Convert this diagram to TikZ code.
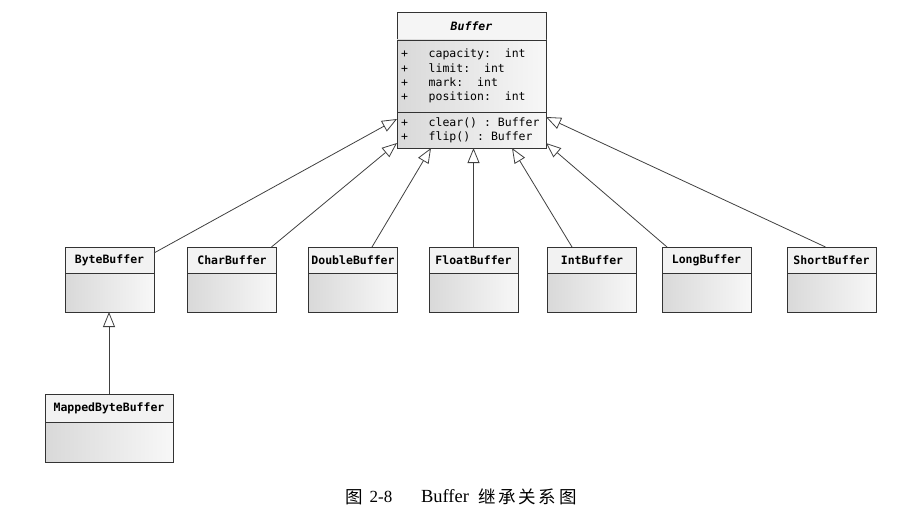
\documentclass[tikz,border=0pt]{standalone}
\usepackage{fontspec}
\usepackage{tikz}
\usetikzlibrary{arrows.meta,positioning}
\setmainfont{Liberation Serif}
\setmonofont{DejaVu Sans Mono}
\newfontfamily\cjk{Noto Sans CJK SC}
\newcommand{\blank}[1]{\phantom{#1}}

\tikzset{
  classname/.style={draw=black!80, line width=0.9pt, fill=black!5, inner sep=0pt, outer sep=0pt,
    minimum width=89pt, minimum height=26pt, font=\fontsize{11.5}{14}\ttfamily\bfseries},
  classbody/.style={draw=black!80, line width=0.9pt, left color=black!15, right color=black!3,
    inner sep=0pt, outer sep=0pt, minimum width=89pt, minimum height=39pt},
  members/.style={classbody, minimum width=149pt, text width=141pt, align=left,
    font=\fontsize{11.5}{14.3}\ttfamily},
  inherit/.style={draw=black!75, line width=0.8pt, -{Triangle[open, length=15pt, width=12pt]}},
  captxt/.style={anchor=base, inner sep=0pt}
}

\begin{document}
\begin{tikzpicture}[x=1pt, y=-1pt]
  \useasboundingbox (0,0) rectangle (905,519);
  % base class
  \node[classname, minimum width=149pt, minimum height=28pt, fill=black!4] (buf) at (471.5,26) {\itshape Buffer};
  \node[members, minimum height=72pt, below=0pt of buf] (bufattr)
    {+\blank{xxx}capacity:\blank{xx}int\\+\blank{xxx}limit:\blank{xx}int\\
     +\blank{xxx}mark:\blank{xx}int\\+\blank{xxx}position:\blank{xx}int};
  \node[members, minimum height=36pt, below=0pt of bufattr] (bufops)
    {+\blank{xxx}clear()\blank{x}:\blank{x}Buffer\\+\blank{xxx}flip()\blank{x}:\blank{x}Buffer};
  % sub classes
  \node[classname] (byte) at (109.5,260) {ByteBuffer};
  \node[classname] (char) at (232,260) {CharBuffer};
  \node[classname] (double) at (353,260) {DoubleBuffer};
  \node[classname] (float) at (473.5,260) {FloatBuffer};
  \node[classname] (int) at (592,260) {IntBuffer};
  \node[classname] (long) at (706.5,260) {LongBuffer};
  \node[classname] (short) at (831.5,260) {ShortBuffer};
  \foreach \n in {byte,char,double,float,int,long,short}
    \node[classbody, below=0pt of \n] (\n body) {};
  \node[classname, minimum width=128pt, minimum height=28pt] (mapped) at (109,408) {MappedByteBuffer};
  \node[classbody, minimum width=128pt, minimum height=40pt, below=0pt of mapped] (mappedbody) {};
  % inheritance arrows
  \draw[inherit] ([yshift=-6pt]byte.north east) -- ([yshift=-7pt]bufops.north west);
  \draw[inherit] ([xshift=-5pt]char.north east) -- ([yshift=5pt]bufops.south west);
  \draw[inherit] ([xshift=19pt]double.north) -- ([xshift=34pt]bufops.south west);
  \draw[inherit] (float.north) -- (float.north |- bufops.south);
  \draw[inherit] ([xshift=-20pt]int.north) -- ([xshift=-34pt]bufops.south east);
  \draw[inherit] ([xshift=5pt]long.north west) -- ([yshift=5pt]bufops.south east);
  \draw[inherit] ([xshift=-6pt]short.north) -- ([yshift=-5pt]bufops.north east);
  \draw[inherit] (mapped.north) -- (mapped.north |- bytebody.south);
  % caption
  \node[captxt, font=\cjk\fontsize{17.5}{17.5}\selectfont] (capfig) at (354,503) {图};
  \node[captxt, font=\fontsize{17}{17}\selectfont] (capnum) at (381,502) {2-8};
  \node[captxt, font=\fontsize{18.5}{18.5}\selectfont] (capname) at (445,502) {Buffer};
  \foreach \ch [count=\i] in {继,承,关,系,图}
    \node[captxt, font=\cjk\fontsize{17.5}{17.5}\selectfont] (cap\i) at ({466.8+20.2*\i},503) {\ch};
\end{tikzpicture}
\end{document}
